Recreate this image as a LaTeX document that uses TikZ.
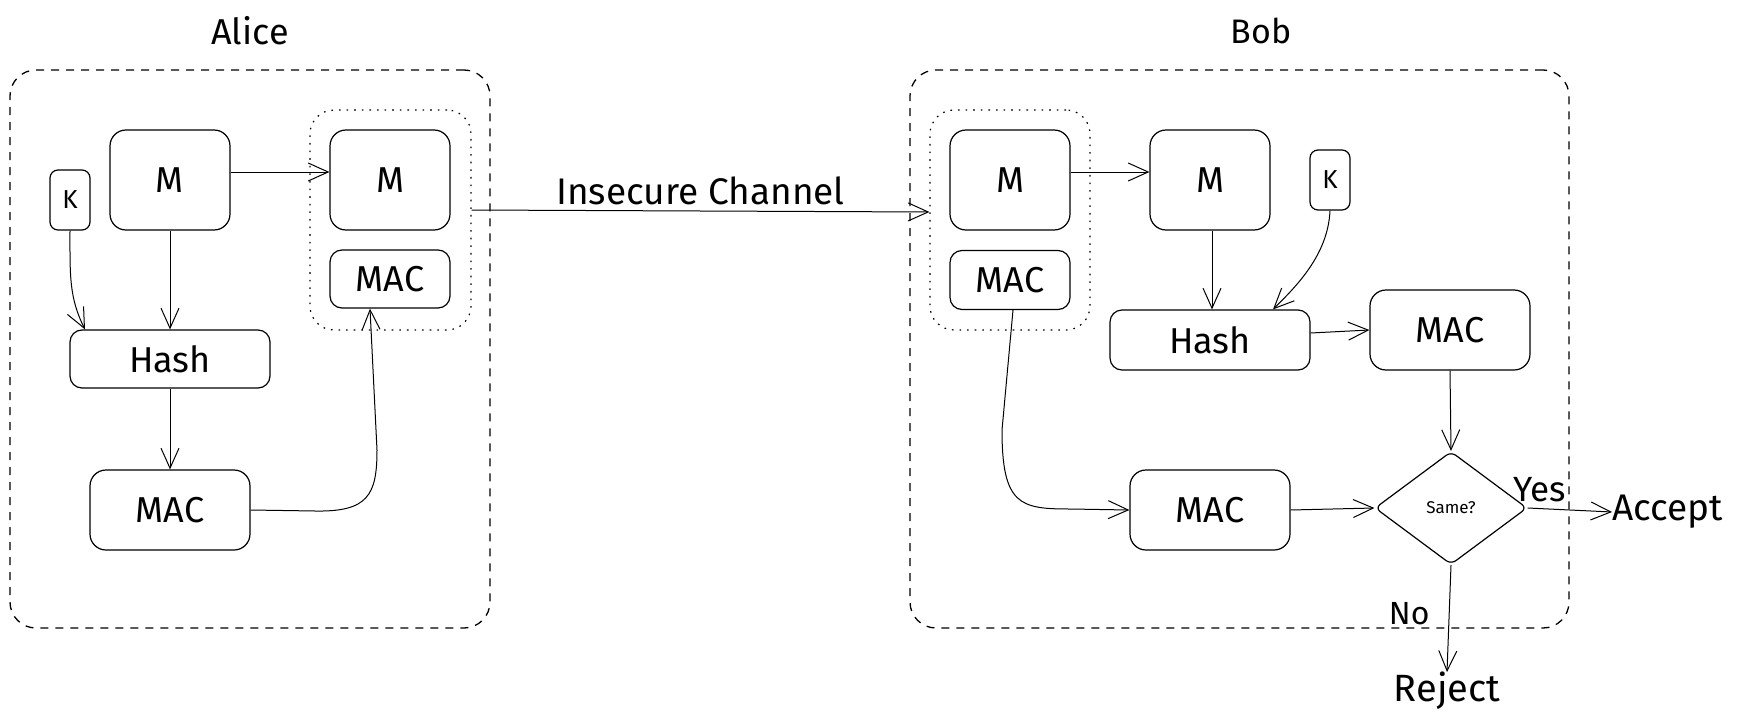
\documentclass[tikz,border=0pt]{standalone}
\usepackage{fontspec}
\setmainfont{Fira Sans}
\usetikzlibrary{arrows.meta,shapes.geometric}
\begin{document}
\begin{tikzpicture}[x=1pt,y=-1pt,
  box/.style={draw, line width=1.2pt, rounded corners=16pt, inner sep=0pt, font=\fontsize{36}{40}\selectfont},
  smallbox/.style={box, rounded corners=8pt, font=\fontsize{26}{30}\selectfont},
  dashbox/.style={draw, line width=1.3pt, dash pattern=on 8pt off 7pt, rounded corners=26pt, inner sep=0pt},
  dotbox/.style={draw, line width=1.2pt, dash pattern=on 1.6pt off 6pt, rounded corners=24pt, inner sep=0pt},
  lbl/.style={inner sep=0pt, font=\fontsize{36}{40}\selectfont},
  arr/.style={draw, line width=1pt, -{Straight Barb[length=20pt,width=18pt,line width=1pt]}}
]
\fill[white] (0,0) rectangle (1737,725);
\useasboundingbox (0,0) rectangle (1737,725);

% ---------- Alice ----------
\node[lbl] (aliceLbl) at (250,31) {Alice};
\node[dashbox, minimum width=480pt, minimum height=558pt] (aliceBox) at (250,349) {};
\node[dotbox, minimum width=161pt, minimum height=220pt] (aDot) at (390.5,220) {};

\node[box, minimum width=120pt, minimum height=100pt] (aM) at (170,180) {M};
\node[smallbox, minimum width=40pt, minimum height=60pt] (aK) at (70,200) {K};
\node[box, rounded corners=12pt, minimum width=200pt, minimum height=58pt] (aHash) at (170,359) {Hash};
\node[box, minimum width=160pt, minimum height=80pt] (aMAC) at (170,510) {MAC};
\node[box, minimum width=120pt, minimum height=100pt] (aDM) at (390,180) {M};
\node[box, rounded corners=12pt, minimum width=120pt, minimum height=58pt] (aDMAC) at (390,279) {MAC};

\draw[arr] ([yshift=8pt]aM.east) -- ([yshift=8pt]aDM.west);
\draw[arr] (aM.south) -- (aHash.north);
\draw[arr] (aK.south) .. controls +(0,45) and +(-16,-32) .. ([xshift=-85pt]aHash.north);
\draw[arr] (aHash.south) -- (aMAC.north);
\draw[arr] (aMAC.east) -- (315,511) .. controls (368,512) and (377,495) .. (377,450) -- ([xshift=-20pt]aDMAC.south);

% ---------- Bob ----------
\node[lbl, font=\fontsize{34}{38}\selectfont] (bobLbl) at (1261,31) {Bob};
\node[dashbox, minimum width=659pt, minimum height=558pt] (bobBox) at (1239.5,349) {};
\node[dotbox, minimum width=160pt, minimum height=220pt] (bDot) at (1010,220) {};

\node[box, minimum width=120pt, minimum height=100pt] (bM1) at (1010,180) {M};
\node[box, rounded corners=12pt, minimum width=120pt, minimum height=59pt] (bMAC1) at (1010,280) {MAC};
\node[box, minimum width=120pt, minimum height=100pt] (bM2) at (1210,180) {M};
\node[smallbox, minimum width=40pt, minimum height=60pt] (bK) at (1330,180) {K};
\node[box, rounded corners=12pt, minimum width=200pt, minimum height=60pt] (bHash) at (1210,340) {Hash};
\node[box, minimum width=160pt, minimum height=80pt] (bMAC2) at (1450,330) {MAC};
\node[box, minimum width=160pt, minimum height=80pt] (bMAC3) at (1210,510) {MAC};
\node[draw, diamond, line width=1.2pt, rounded corners=6pt, minimum width=152pt, minimum height=113pt, inner sep=0pt, font=\fontsize{17}{20}\selectfont] (bSame) at (1451,508) {Same?};

\node[lbl, anchor=west, font=\fontsize{37}{42}\selectfont] (accept) at (1612,512) {Accept};
\node[lbl, anchor=north, font=\fontsize{38}{42}\selectfont] (reject) at (1447,672) {Reject};

% ---------- Channel ----------
\draw[arr] ([yshift=10pt]aDot.east) -- node[lbl, pos=0.5, yshift=20pt, font=\fontsize{37}{42}\selectfont] (chLbl) {Insecure Channel} ([yshift=8pt]bDot.west);

\draw[arr] ([yshift=8pt]bM1.east) -- ([yshift=8pt]bM2.west);
\draw[arr] ([xshift=2pt]bM2.south) -- ([xshift=2pt]bHash.north);
\draw[arr] (bK.south) .. controls +(-2,45) and +(22,-22) .. ([xshift=63pt]bHash.north);
\draw[arr] ([yshift=7pt]bHash.east) -- (bMAC2.west);
\draw[arr] (bMAC2.south) -- (bSame.north);
\draw[arr] ([xshift=3pt]bMAC1.south) -- (1002,430) .. controls (1002,505) and (1020,509) .. (1070,509) -- (bMAC3.west);
\draw[arr] (bMAC3.east) -- (bSame.west);
\draw[arr] (bSame.east) -- node[lbl, pos=0.14, yshift=19pt, font=\fontsize{35}{40}\selectfont] (yesLbl) {Yes} (accept.west);
\draw[arr] (bSame.south) -- node[lbl, pos=0.45, xshift=-40pt, font=\fontsize{32}{36}\selectfont] (noLbl) {No} (reject.north);
\end{tikzpicture}
\end{document}
